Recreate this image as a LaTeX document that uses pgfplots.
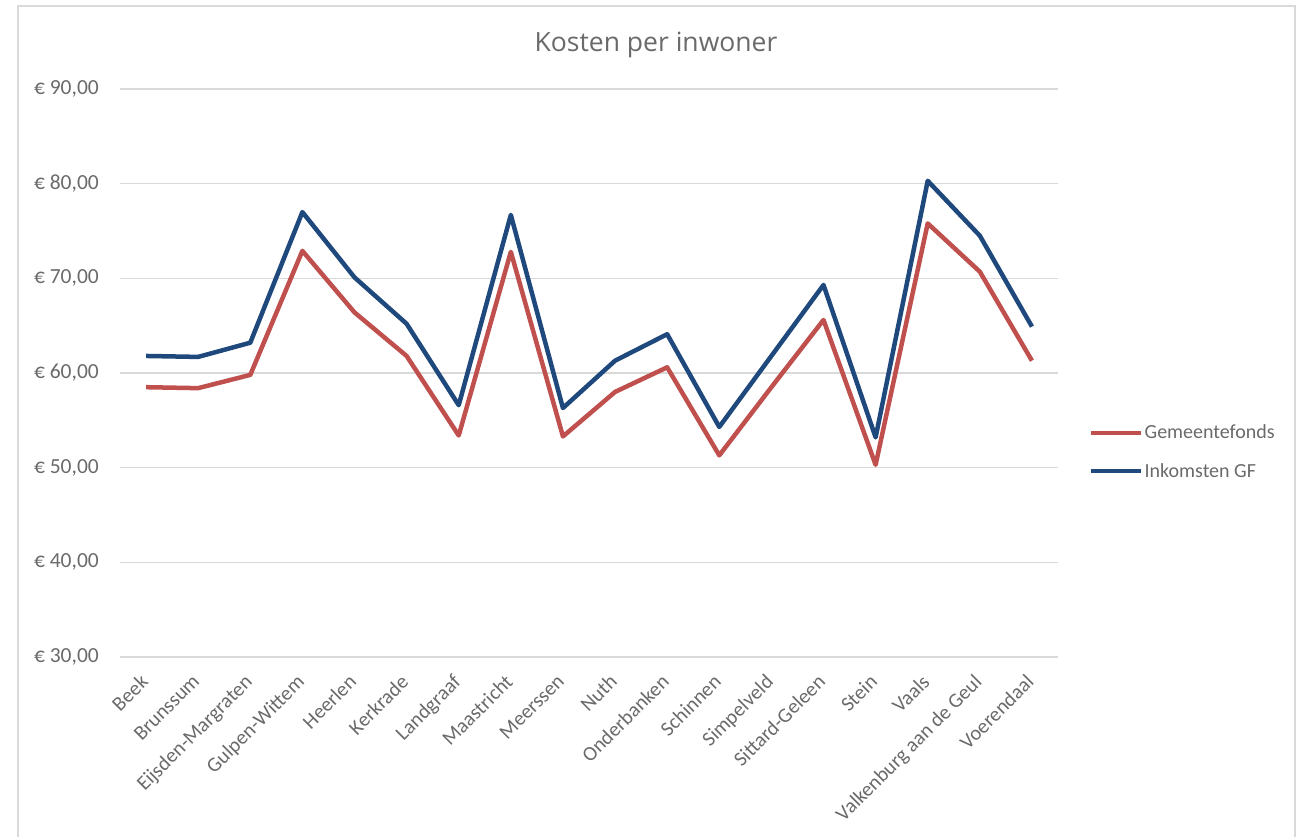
\documentclass[border=0pt]{standalone}
\usepackage{pgfplots}
\pgfplotsset{compat=1.18}
\usepackage{fontspec}
\setmainfont{Carlito}
\newfontfamily\titlefont{Open Sans}
\definecolor{redline}{HTML}{C0504D}
\definecolor{blueline}{HTML}{1F497D}
\definecolor{txt}{HTML}{6A6A6A}
\definecolor{gridc}{HTML}{D9D9D9}
\begin{document}
\begin{tikzpicture}
\path[use as bounding box] (0,0) rectangle (1302pt,836pt);
\draw[gridc, line width=1.5pt] (18pt,-2pt) -- (18pt,830pt) -- (1295pt,830pt) -- (1295pt,-2pt);
\node[anchor=base, text=txt, font=\titlefont\fontsize{26.5}{30}\selectfont] at (656pt,784pt) {Kosten per inwoner};
\begin{axis}[
  at={(120pt,179pt)}, anchor=south west,
  scale only axis, width=938pt, height=568pt,
  xmin=-0.5, xmax=17.5, ymin=30, ymax=90,
  axis line style={draw=none},
  major tick length=0pt,
  ymajorgrids, grid style={gridc, line width=1.5pt},
  ytick={30,40,50,60,70,80,90},
  yticklabels={{€ 30,00},{€ 40,00},{€ 50,00},{€ 60,00},{€ 70,00},{€ 80,00},{€ 90,00}},
  yticklabel style={anchor=east, inner sep=0pt, xshift=-21pt, text=txt, font=\fontsize{21.5}{25}\selectfont},
  xtick={0,...,17},
  xticklabels={Beek,Brunssum,Eijsden-Margraten,Gulpen-Wittem,Heerlen,Kerkrade,Landgraaf,Maastricht,Meerssen,Nuth,Onderbanken,Schinnen,Simpelveld,Sittard-Geleen,Stein,Vaals,Valkenburg aan de Geul,Voerendaal},
  xticklabel style={xshift=-7pt, yshift=-16pt, rotate=45, anchor=north east, inner sep=0pt, text=txt, font=\fontsize{20.5}{24}\selectfont},
  legend style={at={(1.033,0.361)}, anchor=west, draw=none, fill=none, inner sep=0pt, row sep=21pt, text=txt, font=\fontsize{20}{24}\selectfont, nodes={inner sep=1pt}},
  legend cell align=left,
  legend image code/.code={\draw[#1] (0pt,0pt) -- (50pt,0pt);},
  clip=false,
]
\addplot[redline, line width=4.5pt, line join=round, mark=none] coordinates {
(0,58.5) (1,58.4) (2,59.8) (3,72.9) (4,66.4) (5,61.8) (6,53.4) (7,72.8) (8,53.3) (9,58.0) (10,60.6) (11,51.3) (12,58.5) (13,65.6) (14,50.3) (15,75.8) (16,70.7) (17,61.3)};
\addlegendentry{Gemeentefonds}
\addplot[blueline, line width=4.5pt, line join=round, mark=none] coordinates {
(0,61.8) (1,61.7) (2,63.2) (3,77.0) (4,70.1) (5,65.2) (6,56.6) (7,76.7) (8,56.3) (9,61.3) (10,64.1) (11,54.3) (12,61.8) (13,69.3) (14,53.2) (15,80.3) (16,74.5) (17,64.9)};
\addlegendentry{Inkomsten GF}
\end{axis}
\end{tikzpicture}
\end{document}
